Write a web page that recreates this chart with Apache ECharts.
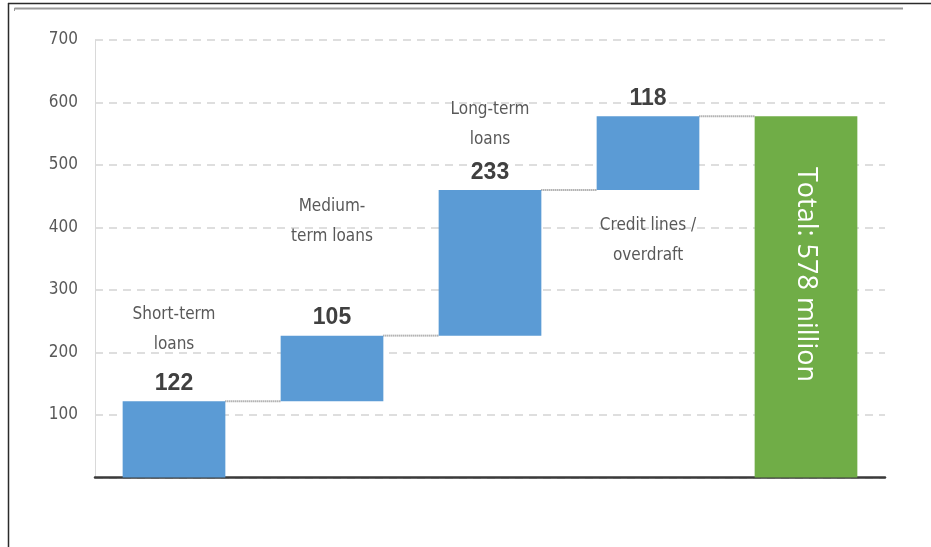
<!DOCTYPE html>
<html>
<head>
<meta charset="utf-8">
<title>Loan portfolio waterfall</title>
<script src="https://cdn.jsdelivr.net/npm/echarts@6/dist/echarts.min.js"></script>
<style>
  html, body { margin: 0; padding: 0; background: #ffffff; }
  #chart { width: 931px; height: 547px; }
</style>
</head>
<body>
<div id="chart"></div>
<script>
// Loan categories and their contributions (million)
const categories = ['Short-term\nloans', 'Medium-\nterm loans', 'Long-term\nloans', 'Credit lines /\noverdraft', 'Total'];
const increments = [122, 105, 233, 118];
const totalValue = 578;
const totalText = 'Total: 578 million';
const yAxisMin = 0;
const yAxisMax = 700;
const yAxisStep = 100;

// Vertical offsets (px) of each category caption relative to its bar top
const captionOffsets = [-72, -114, -65, 124];

// Running sums give the floating base of every step bar
const bases = [];
const tops = [];
let running = 0;
increments.forEach(function (v) {
  bases.push(running);
  running += v;
  tops.push(running);
});

const BLUE = '#5b9bd5';
const GREEN = '#70ad47';
const BAR_RATIO = 0.65;
const textFont = '"Liberation Sans Narrow", "DejaVu Sans Condensed", "Liberation Sans", sans-serif';

const chart = echarts.init(document.getElementById('chart'), null, { renderer: 'canvas' });

const stepData = increments.map(function (v) {
  return {
    value: v,
    itemStyle: { color: BLUE },
    label: {
      show: true,
      position: 'top',
      distance: 6,
      formatter: String(v),
      fontFamily: '"Liberation Sans", Arial, sans-serif',
      fontWeight: 'bold',
      fontSize: 23,
      color: '#404040'
    }
  };
});
stepData.push({
  value: totalValue,
  itemStyle: { color: GREEN },
  label: {
    show: true,
    position: ['50%', '43.8%'],
    rotate: -90,
    align: 'center',
    verticalAlign: 'middle',
    formatter: totalText,
    fontFamily: '"Open Sans", sans-serif',
    fontSize: 27,
    color: '#ffffff'
  }
});

// Connector segments: from the top of one bar to the next bar
const connectorData = tops.map(function (t, i) { return [i, t]; });

// Caption anchors: category index and bar top
const captionData = tops.map(function (t, i) { return [i, t, captionOffsets[i]]; });

chart.setOption({
  animation: false,
  backgroundColor: '#ffffff',
  grid: { left: 95, right: 46, top: 40, bottom: 69.5, containLabel: false },
  xAxis: {
    type: 'category',
    data: categories,
    axisLine: { show: true, lineStyle: { color: '#3a3a3a', width: 2.5 } },
    axisTick: { show: false },
    axisLabel: { show: false },
    splitLine: { show: false }
  },
  yAxis: {
    type: 'value',
    min: yAxisMin,
    max: yAxisMax,
    interval: yAxisStep,
    axisLine: { show: true, lineStyle: { color: '#d9d9d9', width: 1 } },
    axisTick: { show: false },
    axisLabel: {
      showMinLabel: false,
      margin: 17,
      fontFamily: textFont,
      fontSize: 17,
      color: '#595959'
    },
    splitLine: {
      show: true,
      lineStyle: { color: '#d4d4d4', width: 1.5, type: [8, 6] }
    }
  },
  series: [
    {
      name: 'base',
      type: 'bar',
      stack: 'waterfall',
      barWidth: (BAR_RATIO * 100) + '%',
      silent: true,
      itemStyle: { color: 'transparent' },
      data: bases.concat([0])
    },
    {
      name: 'amount',
      type: 'bar',
      stack: 'waterfall',
      barWidth: (BAR_RATIO * 100) + '%',
      data: stepData,
      z: 3
    },
    {
      name: 'connectors',
      type: 'custom',
      silent: true,
      z: 2,
      data: connectorData,
      renderItem: function (params, api) {
        const idx = api.value(0);
        const val = api.value(1);
        const p0 = api.coord([idx, val]);
        const p1 = api.coord([idx + 1, val]);
        const half = api.size([1, 0])[0] * BAR_RATIO / 2;
        return {
          type: 'line',
          shape: { x1: p0[0] + half, y1: p0[1], x2: p1[0] - half, y2: p1[1] },
          style: { stroke: '#8c8c8c', lineWidth: 2, lineDash: [1, 1] }
        };
      }
    },
    {
      name: 'captions',
      type: 'custom',
      silent: true,
      z: 4,
      data: captionData,
      renderItem: function (params, api) {
        const idx = api.value(0);
        const p = api.coord([idx, api.value(1)]);
        return {
          type: 'text',
          x: p[0],
          y: p[1] + api.value(2),
          style: {
            text: categories[idx],
            fill: '#595959',
            font: '17px ' + textFont,
            lineHeight: 30,
            align: 'center',
            verticalAlign: 'middle'
          }
        };
      }
    }
  ],
  graphic: [
    // outer frame: dark rule on top and on the left
    { type: 'line', shape: { x1: 8, y1: 3.5, x2: 931, y2: 3.5 }, style: { stroke: '#2b2b2b', lineWidth: 1.5 } },
    { type: 'line', shape: { x1: 8.5, y1: 3, x2: 8.5, y2: 547 }, style: { stroke: '#2b2b2b', lineWidth: 1.5 } },
    // inner grey rule under the top edge
    { type: 'line', shape: { x1: 14.5, y1: 8.5, x2: 903, y2: 8.5 }, style: { stroke: '#9a9a9a', lineWidth: 2 } },
    { type: 'line', shape: { x1: 14.5, y1: 8, x2: 14.5, y2: 11 }, style: { stroke: '#9a9a9a', lineWidth: 1 } }
  ]
});
</script>
</body>
</html>
